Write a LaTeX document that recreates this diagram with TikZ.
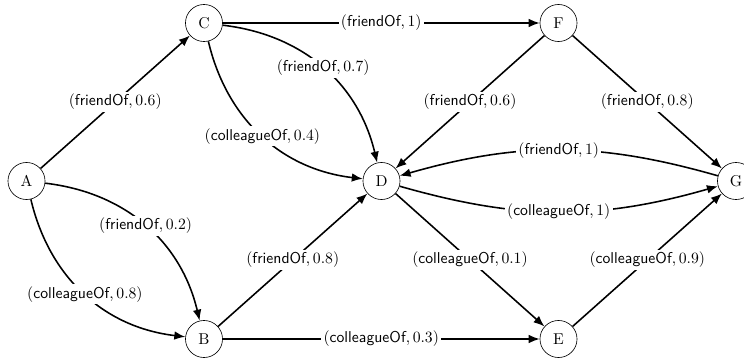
\documentclass[tikz,border=0pt]{standalone}
\usetikzlibrary{arrows.meta}
\newcommand{\rel}[2]{$(\textsf{#1}, #2)$}
\begin{document}
\begin{tikzpicture}[x=0.637pt, y=-0.637pt,
  vertex/.style={draw, circle, thin, minimum size=23.6pt, inner sep=0pt},
  link/.style={line width=1pt, -{Latex[length=7pt,width=5.5pt]}},
  lbl/.style={fill=white, inner sep=1.5pt, font=\normalsize},
  arcA/.style={bend left=35},
  arcB/.style={bend right=35},
  arcC/.style={bend right=16}]
  \useasboundingbox (0,0) rectangle (744,360);

  % vertices on a 5 x 3 grid
  \node[vertex] (A) at (26.5,181) {A};
  \node[vertex] (B) at (204,339) {B};
  \node[vertex] (C) at (204,23) {C};
  \node[vertex] (D) at (381.5,181) {D};
  \node[vertex] (E) at (558.5,339) {E};
  \node[vertex] (F) at (558.5,23) {F};
  \node[vertex] (G) at (736,181) {G};

  % straight relations
  \draw[link] (A) -- node[lbl] {\rel{friendOf}{0.6}} (C);
  \draw[link] (C) -- node[lbl] {\rel{friendOf}{1}} (F);
  \draw[link] (B) -- node[lbl] {\rel{friendOf}{0.8}} (D);
  \draw[link] (B) -- node[lbl] {\rel{colleagueOf}{0.3}} (E);
  \draw[link] (F) -- node[lbl] {\rel{friendOf}{0.6}} (D);
  \draw[link] (F) -- node[lbl] {\rel{friendOf}{0.8}} (G);
  \draw[link] (D) -- node[lbl] {\rel{colleagueOf}{0.1}} (E);
  \draw[link] (E) -- node[lbl] {\rel{colleagueOf}{0.9}} (G);

  % curved relations
  \draw[link] (A) to[arcA] node[lbl] {\rel{friendOf}{0.2}} (B);
  \draw[link] (A) to[arcB] node[lbl] {\rel{colleagueOf}{0.8}} (B);
  \draw[link] (C) to[arcA] node[lbl] {\rel{friendOf}{0.7}} (D);
  \draw[link] (C) to[arcB] node[lbl] {\rel{colleagueOf}{0.4}} (D);
  \draw[link] (G) to[arcC] node[lbl] {\rel{friendOf}{1}} (D);
  \draw[link] (D) to[arcC] node[lbl] {\rel{colleagueOf}{1}} (G);
\end{tikzpicture}
\end{document}
